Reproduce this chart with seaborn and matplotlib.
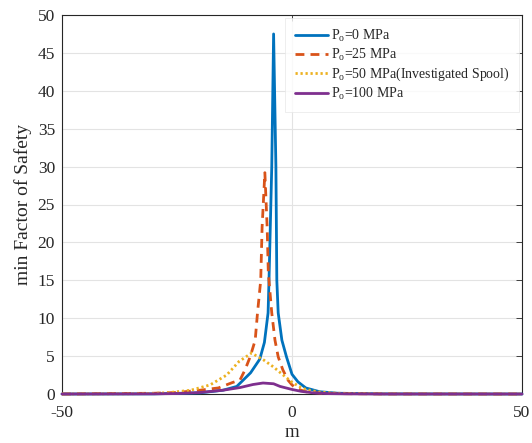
import matplotlib
matplotlib.use("Agg")
import matplotlib.pyplot as plt
import seaborn as sns
import pandas as pd

# ---- data ----
labels = [r"P$_{\mathrm{o}}$=0 MPa", r"P$_{\mathrm{o}}$=25 MPa",
          r"P$_{\mathrm{o}}$=50 MPa(Investigated Spool)", r"P$_{\mathrm{o}}$=100 MPa"]

m_p0 = [-50, -30, -20, -15, -12, -11, -9, -7, -6, -5.2, -5.0, -4.4, -4.0,
        -3.5, -3.3, -3.0, -2.2, -1.2, 0, 1.3, 3, 6, 10, 20, 30, 50]
fs_p0 = [0.0, 0.02, 0.15, 0.5, 1.0, 1.6, 2.8, 4.6, 6.8, 10.7, 15, 30, 47.5,
         30, 15, 10.7, 7.1, 4.9, 2.6, 1.6, 0.8, 0.3, 0.1, 0.02, 0.01, 0.0]

m_p25 = [-50, -30, -25, -20, -16, -13, -11.3, -10.2, -9.1, -8.0, -7.5, -6.8,
         -6.5, -5.9, -5.4, -5.15, -4.4, -3.7, -3.0, -2.0, -0.9, 0, 1, 3, 6,
         10, 20, 50]
fs_p25 = [0, 0.1, 0.2, 0.5, 0.8, 1.5, 1.85, 3.2, 4.9, 7.1, 10.7, 15, 22, 29.2,
          22, 16, 10.7, 7.1, 4.9, 3.2, 1.85, 1.2, 0.7, 0.3, 0.12, 0.05, 0.01, 0]

m_p50 = [-50, -35, -30, -26.5, -22, -17.8, -14.2, -11.5, -8.8, -6.2, -4.1,
         -1.9, -0.1, 1.5, 3, 6, 10, 20, 50]
fs_p50 = [0, 0.03, 0.08, 0.2, 0.5, 1.2, 2.5, 4.3, 5.4, 4.5, 3.6, 2.5, 1.6,
          1.0, 0.6, 0.25, 0.1, 0.02, 0]

m_p100 = [-50, -30, -25, -20, -15, -11.3, -8.5, -6.3, -4, -2.6, 0, 2, 4.6, 8,
          12, 20, 50]
fs_p100 = [0, 0.02, 0.06, 0.2, 0.5, 0.85, 1.25, 1.45, 1.35, 1.0, 0.6, 0.35,
           0.15, 0.05, 0.02, 0.0, 0]

x_ticks = [-50, 0, 50]
y_ticks = [0, 5, 10, 15, 20, 25, 30, 35, 40, 45, 50]

# ---- style ----
sns.set_style("white")
plt.rcParams["font.family"] = ["Liberation Serif", "DejaVu Serif"]
plt.rcParams["mathtext.fontset"] = "custom"
plt.rcParams["mathtext.rm"] = "Liberation Serif"
plt.rcParams["mathtext.it"] = "Liberation Serif:italic"
plt.rcParams["axes.unicode_minus"] = False

colors = ["#0072BD", "#D95319", "#EDB120", "#7E2F8E"]
styles = ["-", (0, (3.2, 2.2)), (0, (0.8, 1.0)), "-"]

series = [(m_p0, fs_p0), (m_p25, fs_p25), (m_p50, fs_p50), (m_p100, fs_p100)]

fig = plt.figure(figsize=(5.32, 4.43), dpi=100)
ax = fig.add_axes([62 / 532, 49 / 443, 460 / 532, 379 / 443])

for (mx, fy), lab, c, ls in zip(series, labels, colors, styles):
    df = pd.DataFrame({"m": mx, "fs": fy})
    sns.lineplot(data=df, x="m", y="fs", ax=ax, color=c, linestyle=ls,
                 linewidth=2.0, label=lab, clip_on=False, zorder=3)

ax.set_xlim(-50, 50)
ax.set_ylim(0, 50)
ax.set_xticks(x_ticks)
ax.set_yticks(y_ticks)
ax.grid(True, color="#e3e3e3", linewidth=0.8)
ax.set_axisbelow(True)
for s in ax.spines.values():
    s.set_color("#262626")
    s.set_linewidth(0.8)
    s.set_visible(True)
ax.tick_params(direction="in", top=True, right=True, length=4, width=0.6,
               labelsize=12.5, colors="#262626")
ax.tick_params(axis="y", pad=5)
ax.tick_params(axis="x", pad=8)
ax.set_xlabel("m", fontsize=13.5, labelpad=2)
ax.set_ylabel("min Factor of Safety", fontsize=14, labelpad=4)

leg = ax.legend(loc="upper right", bbox_to_anchor=(1.0, 1.0), fontsize=10,
                frameon=True, fancybox=False, edgecolor="#e6e6e6",
                handlelength=2.4, labelspacing=0.2, handletextpad=0.15,
                borderaxespad=0.2, borderpad=0.72)
leg.get_frame().set_linewidth(0.6)

fig.savefig("out.png", dpi=100)
